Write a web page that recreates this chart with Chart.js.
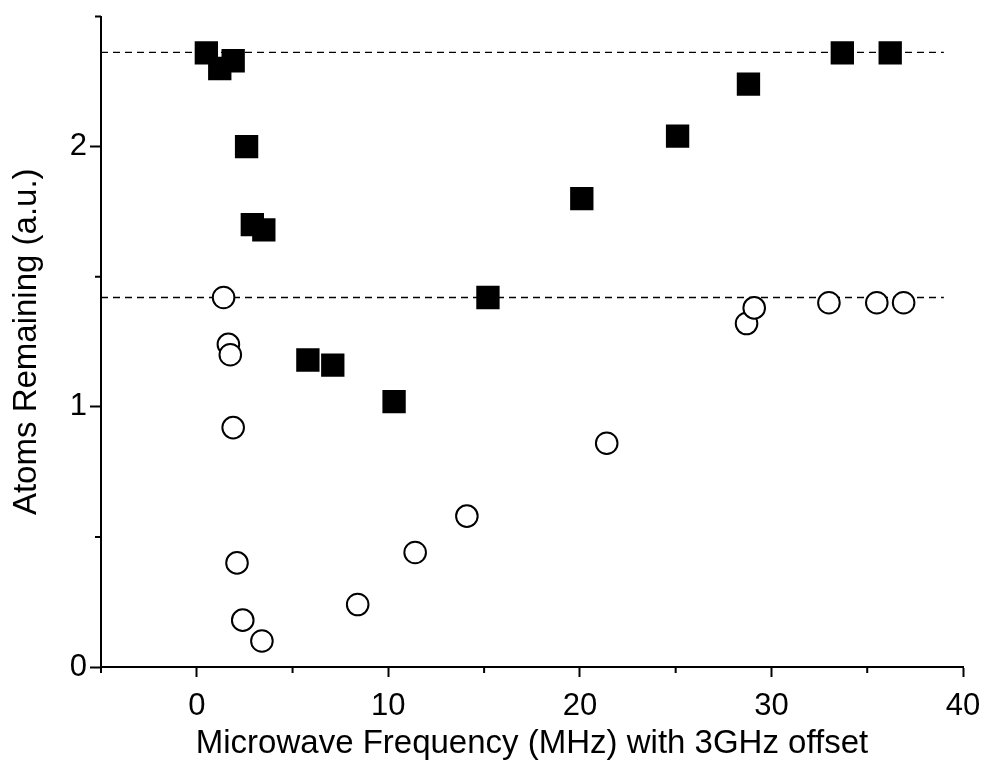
<!DOCTYPE html>
<html>
<head>
<meta charset="utf-8">
<script src="https://cdn.jsdelivr.net/npm/chart.js@4"></script>
<style>
  body { margin: 0; background: #fff; }
  #wrap { width: 986px; height: 766px; }
</style>
</head>
<body>
<div id="wrap"><canvas id="chart" width="986" height="766"></canvas></div>
<script>
// data
const squareX = [0.5, 1.2, 1.9, 2.6, 2.9, 3.5, 5.8, 7.1, 10.3, 15.2, 20.1, 25.1, 28.8, 33.7, 36.2];
const squareY = [2.36, 2.30, 2.33, 2.00, 1.70, 1.68, 1.18, 1.16, 1.02, 1.42, 1.80, 2.04, 2.24, 2.36, 2.36];

const circleX = [1.4, 1.65, 1.75, 1.9, 2.1, 2.4, 3.4, 8.4, 11.4, 14.1, 21.4, 28.7, 29.1, 33.0, 35.5, 36.9];
const circleY = [1.42, 1.24, 1.20, 0.92, 0.40, 0.18, 0.10, 0.24, 0.44, 0.58, 0.86, 1.32, 1.38, 1.40, 1.40, 1.40];

// dashed reference levels
const levelX = [-5, 39];
const upperLevel = 2.362;
const lowerLevel = 1.42;

const xTicks = [0, 10, 20, 30, 40];
const yTicks = [0, 1, 2];

const toPoints = (xs, ys) => xs.map((x, i) => ({ x: x, y: ys[i] }));

// short outward ticks for the unlabelled positions
const minorTicks = {
  id: "minorTicks",
  afterDraw(chart) {
    const c = chart.ctx;
    const xs = chart.scales.x;
    const ys = chart.scales.y;
    c.save();
    c.strokeStyle = "#000";
    c.lineWidth = 2;
    c.beginPath();
    xs.ticks.forEach((t) => {
      if (xTicks.includes(t.value)) return;
      const px = xs.getPixelForValue(t.value);
      c.moveTo(px, xs.top);
      c.lineTo(px, xs.top + 6);
    });
    ys.ticks.forEach((t) => {
      if (yTicks.includes(t.value)) return;
      const py = ys.getPixelForValue(t.value);
      c.moveTo(ys.right, py);
      c.lineTo(ys.right - 6, py);
    });
    c.stroke();
    c.restore();
  },
};

const font = "'Liberation Sans', Arial, sans-serif";

new Chart(document.getElementById("chart"), {
  type: "scatter",
  data: {
    datasets: [
      {
        label: "squares",
        data: toPoints(squareX, squareY),
        pointStyle: "rect",
        pointRadius: 16.5,
        backgroundColor: "#000",
        borderColor: "#000",
        borderWidth: 0,
      },
      {
        label: "circles",
        data: toPoints(circleX, circleY),
        pointStyle: "circle",
        pointRadius: 10.8,
        backgroundColor: "#fff",
        borderColor: "#000",
        borderWidth: 2,
      },
      {
        type: "line",
        label: "upper",
        data: toPoints(levelX, [upperLevel, upperLevel]),
        borderColor: "#000",
        borderWidth: 1.3,
        borderDash: [7, 5],
        pointRadius: 0,
        fill: false,
      },
      {
        type: "line",
        label: "lower",
        data: toPoints(levelX, [lowerLevel, lowerLevel]),
        borderColor: "#000",
        borderWidth: 1.3,
        borderDash: [7, 5],
        pointRadius: 0,
        fill: false,
      },
    ],
  },
  options: {
    responsive: false,
    animation: false,
    devicePixelRatio: 1,
    layout: { padding: { top: 16, right: 23, left: 0, bottom: 0 } },
    plugins: {
      legend: { display: false },
      tooltip: { enabled: false },
    },
    scales: {
      x: {
        type: "linear",
        min: -5,
        max: 40,
        afterFit: (scale) => {
          scale.height = 99;
          scale.paddingLeft = 0;
          scale.paddingRight = 0;
        },
        border: { display: true, color: "#000", width: 2 },
        grid: {
          drawOnChartArea: false,
          drawTicks: true,
          tickLength: 10,
          tickWidth: 2,
          tickColor: (ctx) => (xTicks.includes(ctx.tick.value) ? "#000" : "rgba(0,0,0,0)"),
        },
        ticks: {
          stepSize: 5,
          autoSkip: false,
          maxRotation: 0,
          padding: 11,
          color: "#000",
          font: { family: font, size: 31 },
          callback: (v) => (xTicks.includes(v) ? String(v) : ""),
        },
        title: {
          display: true,
          text: "Microwave Frequency (MHz) with 3GHz offset",
          color: "#000",
          font: { family: font, size: 33 },
          padding: { top: 0, bottom: 2 },
        },
      },
      y: {
        type: "linear",
        min: 0,
        max: 2.5,
        afterFit: (scale) => {
          scale.width = 101;
          scale.paddingTop = 0;
          scale.paddingBottom = 0;
        },
        border: { display: true, color: "#000", width: 2 },
        grid: {
          drawOnChartArea: false,
          drawTicks: true,
          tickLength: 11,
          tickWidth: 2,
          tickColor: (ctx) => (yTicks.includes(ctx.tick.value) ? "#000" : "rgba(0,0,0,0)"),
        },
        ticks: {
          stepSize: 0.5,
          autoSkip: false,
          padding: 3,
          color: "#000",
          font: { family: font, size: 31 },
          callback: (v) => (yTicks.includes(v) ? String(v) : ""),
        },
        title: {
          display: true,
          text: "Atoms Remaining (a.u.)",
          color: "#000",
          font: { family: font, size: 33 },
          padding: { top: 7, bottom: 0 },
        },
      },
    },
  },
  plugins: [minorTicks],
});
</script>
</body>
</html>
